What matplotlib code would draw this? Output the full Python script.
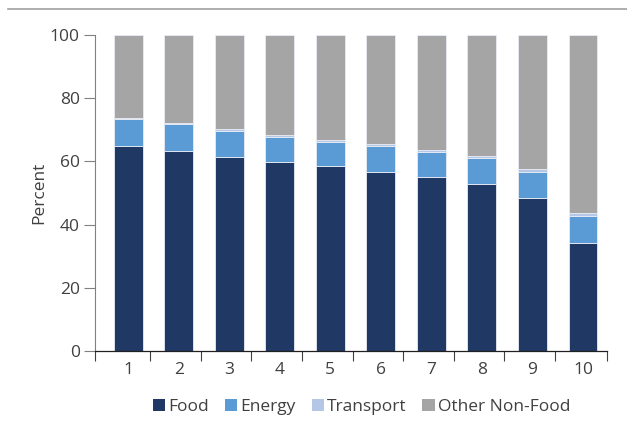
import numpy as np
import matplotlib.pyplot as plt
from matplotlib.lines import Line2D
from matplotlib.patches import Patch

plt.rcParams['font.family'] = ['Open Sans', 'DejaVu Sans']

deciles = ['1', '2', '3', '4', '5', '6', '7', '8', '9', '10']
food = [64.9, 63.2, 61.5, 59.9, 58.5, 56.7, 55.2, 52.9, 48.5, 34.3]
energy = [8.4, 8.6, 8.2, 8.0, 7.7, 8.3, 7.8, 8.1, 8.2, 8.4]
transport = [0.4, 0.4, 0.6, 0.4, 0.7, 0.5, 0.6, 0.7, 0.9, 1.0]
other = [100 - f - e - t for f, e, t in zip(food, energy, transport)]

colors = {'Food': '#1f3864', 'Energy': '#5b9bd5',
          'Transport': '#b4c7e7', 'Other Non-Food': '#a5a5a5'}
text_col = '#404040'
fs = 12.5

fig = plt.figure(figsize=(6.27, 4.29), dpi=100, facecolor='white')
ax = fig.add_axes([0.1515, 0.182, 0.817, 0.736])

x = np.arange(1, len(deciles) + 1)
w = 0.57
bottom = np.zeros(len(x))
for name, vals in [('Food', food), ('Energy', energy),
                   ('Transport', transport), ('Other Non-Food', other)]:
    ax.bar(x, vals, w, bottom=bottom, color=colors[name],
           edgecolor='#e8ecf4', linewidth=0.6, label=name)
    bottom += np.array(vals)

ax.set_xlim(0.345, 10.48)
ax.set_ylim(0, 100)
ax.set_yticks(range(0, 101, 20))
ax.set_xticks(x)
ax.set_xticklabels(deciles)
ax.set_xticks(list(np.arange(1.44, 10.0, 1)) + [0.345, 10.48], minor=True)
ax.tick_params(axis='x', which='major', length=0, pad=8,
               labelsize=fs, labelcolor=text_col)
ax.tick_params(axis='x', which='minor', length=7, width=0.8,
               color='#404040', direction='out')
ax.tick_params(axis='y', length=8, width=0.8, color='#808080',
               labelsize=fs, labelcolor=text_col, pad=3)

for s in ['top', 'right']:
    ax.spines[s].set_visible(False)
ax.spines['left'].set_color('#808080')
ax.spines['left'].set_linewidth(0.8)
ax.spines['bottom'].set_color('#202020')
ax.spines['bottom'].set_linewidth(0.9)

ax.set_ylabel('Percent', fontsize=fs, color=text_col, labelpad=2)

handles = [Patch(facecolor=c, edgecolor='none', label=n) for n, c in colors.items()]
fig.legend(handles=handles, loc='center', bbox_to_anchor=(0.577, 0.051),
           ncol=4, frameon=False, fontsize=fs, handlelength=0.7,
           handleheight=0.7, handletextpad=0.2, columnspacing=0.9,
           labelcolor=text_col)

fig.add_artist(Line2D([0.013, 1.0], [0.979, 0.979], color='#a0a0a0', lw=1.2))

fig.savefig('out.png', dpi=100, facecolor='white')
